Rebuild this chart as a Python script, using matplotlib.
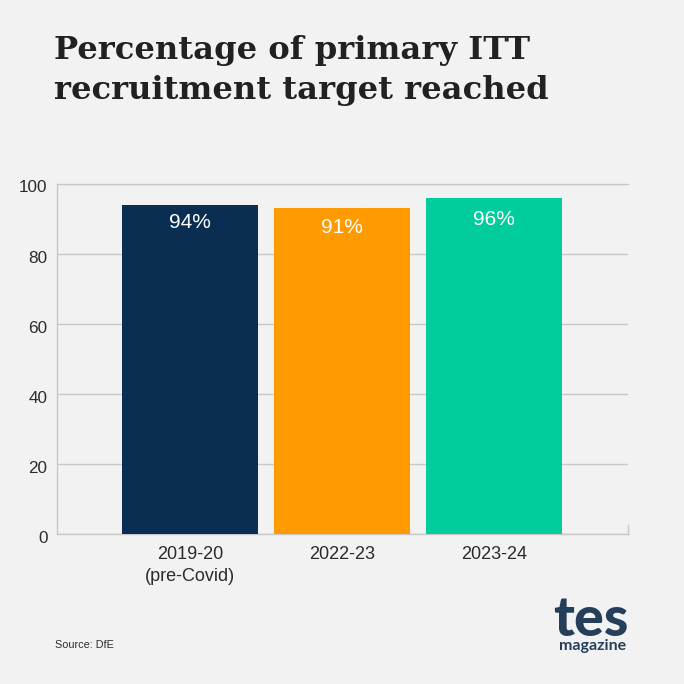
import matplotlib
matplotlib.use('Agg')
import matplotlib.pyplot as plt
from matplotlib.transforms import ScaledTranslation

categories = ['2019-20\n(pre-Covid)', '2022-23', '2023-24']
values = [94, 93, 96]
bar_labels = ['94%', '91%', '96%']
bar_colors = ['#0a2e52', '#ff9b00', '#00cc9c']
yticks = [0, 20, 40, 60, 80, 100]

BG = '#f2f2f2'
GRID = '#c8c8c8'
W = H = 684.0

plt.rcParams['font.family'] = ['Liberation Sans', 'DejaVu Sans']

fig = plt.figure(figsize=(6.84, 6.84), dpi=100, facecolor=BG)
ax = fig.add_axes([57 / W, 1 - 534 / H, (627.5 - 57) / W, (534 - 183.5) / H], facecolor=BG)

x = range(len(categories))
ax.bar(x, values, width=0.9, color=bar_colors, zorder=3)
# labels don't sit at a constant distance under the bar tops in the original
label_drop = [18, 19, 22]
for i, lab in enumerate(bar_labels):
    ax.annotate(lab, (i, values[i]), xytext=(0, -label_drop[i] * 0.72), textcoords='offset points',
                color='white', fontsize=15, ha='center', va='center', zorder=4)

ax.set_xlim(-0.875, 2.878)
ax.set_ylim(0, 100)
ax.set_yticks(yticks)
ax.set_xticks(list(x))
ax.set_xticklabels(categories, fontsize=13, color='#2b2b2b', linespacing=1.42)
ax.tick_params(axis='y', length=0, labelsize=12.3, labelcolor='#2b2b2b', pad=6.8)
ax.tick_params(axis='x', length=0, pad=8.5)
# y tick labels sit a little below their gridlines
for t in ax.get_yticklabels():
    t.set_transform(t.get_transform() + ScaledTranslation(0, -3 / 100, fig.dpi_scale_trans))
ax.grid(axis='y', color=GRID, linewidth=1, zorder=0)
for side in ['top', 'left', 'bottom']:
    ax.spines[side].set_color(GRID)
    ax.spines[side].set_linewidth(1)
ax.spines['right'].set_visible(False)
# short end tick at the right of the baseline
ax.plot([1, 1], [0, 0.025], transform=ax.transAxes, color=GRID, linewidth=1, clip_on=False)

fig.text(54.5 / W, 1 - 50 / H, 'Percentage of primary ITT', family='DejaVu Serif', fontweight='bold',
         fontsize=23.1, color='#212121', ha='left', va='center')
fig.text(54.5 / W, 1 - 90 / H, 'recruitment target reached', family='DejaVu Serif', fontweight='bold',
         fontsize=23.1, color='#212121', ha='left', va='center')

fig.text(55 / W, 1 - 645 / H, 'Source: DfE', fontsize=7.8, color='#2b2b2b', ha='left', va='center')

# logo
fig.text(591 / W, 1 - 636 / H, 'tes', family='Lato', fontweight='black', fontsize=40, color='#253f5b',
         ha='center', va='baseline')
fig.text(593 / W, 1 - 650 / H, 'magazine', family='Lato', fontweight='bold', fontsize=11.5, color='#253f5b',
         ha='center', va='baseline')

fig.savefig('out.png', dpi=100, facecolor=BG)
